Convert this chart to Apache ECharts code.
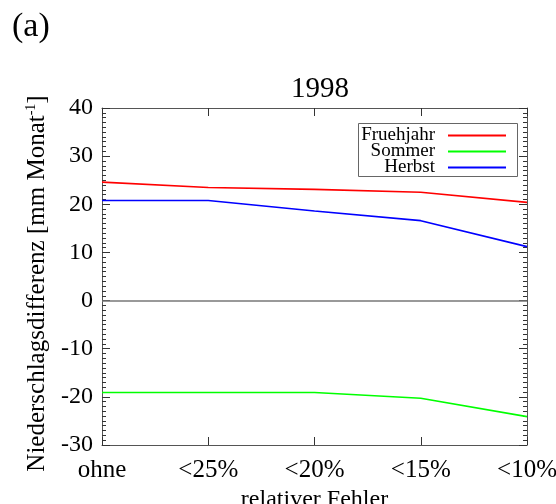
<!DOCTYPE html>
<html><head><meta charset="utf-8">
<script src="https://cdn.jsdelivr.net/npm/echarts@6/dist/echarts.min.js"></script>
<style>html,body{margin:0;padding:0;background:#fff}#c{width:556px;height:504px}</style>
</head><body><div id="c"></div>
<script>
const categories = ['ohne', '<25%', '<20%', '<15%', '<10%'];
const fruehjahr = [24.6, 23.5, 23.1, 22.5, 20.4];
const sommer = [-19.1, -19.1, -19.1, -20.3, -24.1];
const herbst = [20.8, 20.8, 18.6, 16.6, 11.2];
const yTicks = { min: -30, max: 40, interval: 10 };

const F = 'Liberation Serif';
const axColor = '#555';
const tickColor = '#333';
const chart = echarts.init(document.getElementById('c'));
function legendFor(name, color, top) {
  return {
    right: 50, top: top, orient: 'horizontal', align: 'right',
    itemWidth: 58, itemHeight: 10, itemGap: 0,
    textStyle: { fontFamily: F, fontSize: 19, color: '#000', padding: [0, 8, 0, 0] },
    data: [{ name: name, icon: 'path://M0,4H58V6H0Z', itemStyle: { color: color } }],
    padding: 0
  };
}
const yCommon = {
  type: 'value', min: yTicks.min, max: yTicks.max, interval: yTicks.interval,
  axisLine: { show: true, onZero: false, lineStyle: { color: axColor, width: 1 } },
  axisTick: { show: true, inside: true, length: 8, lineStyle: { color: tickColor, width: 1 } },
  minorTick: { show: true, splitNumber: 10, length: 4, lineStyle: { color: tickColor, width: 1 } },
  splitLine: { show: false }
};
chart.setOption({
  animation: false,
  title: {
    text: '1998', left: 315, top: 70, textAlign: 'center',
    textStyle: { fontFamily: F, fontSize: 29, fontWeight: 'normal', color: '#000' }
  },
  graphic: [
    { type: 'text', left: 12, top: 10, style: { text: '(a)', fontFamily: F, fontSize: 34, fill: '#000' } },
    { type: 'rect', shape: { x: 358.5, y: 123.5, width: 159, height: 53 }, style: { fill: 'none', stroke: '#666', lineWidth: 1 }, z: 10 }
  ],
  legend: [legendFor('Fruehjahr', '#ff0000', 126), legendFor('Sommer', '#00ff00', 142), legendFor('Herbst', '#0000ff', 158)],
  grid: { left: 102, right: 29, top: 108, bottom: 59, containLabel: false, outerBoundsMode: 'none' },
  xAxis: [
    {
      type: 'category', data: categories, boundaryGap: false, position: 'bottom',
      axisLine: { onZero: false, lineStyle: { color: axColor, width: 1 } },
      axisTick: { show: true, inside: true, length: 8, lineStyle: { color: tickColor, width: 1 } },
      axisLabel: { fontFamily: F, fontSize: 25, color: '#000', margin: 13 },
      name: 'relativer Fehler', nameLocation: 'middle', nameGap: 32,
      nameTextStyle: { fontFamily: F, fontSize: 24, color: '#000' },
      splitLine: { show: false }
    },
    {
      type: 'category', data: categories, boundaryGap: false, position: 'top',
      axisLine: { onZero: false, lineStyle: { color: axColor, width: 1 } },
      axisTick: { show: true, inside: true, length: 8, lineStyle: { color: tickColor, width: 1 } },
      axisLabel: { show: false }, splitLine: { show: false }
    }
  ],
  yAxis: [
    Object.assign({}, yCommon, {
      position: 'left',
      axisLabel: { fontFamily: F, fontSize: 24, color: '#000', margin: 9 },
      name: '{a|Niederschlagsdifferenz [mm Monat}{s|-1}{a|]}', nameLocation: 'middle', nameGap: 46,
      nameTextStyle: { fontFamily: F, fontSize: 25, color: '#000', padding: [0, 14, 0, 0],
        rich: { a: { fontFamily: F, fontSize: 25, color: '#000' }, s: { fontFamily: F, fontSize: 14, color: '#000', verticalAlign: 'top', padding: [0, 0, 12, 0] } } }
    }),
    Object.assign({}, yCommon, { position: 'right', axisLabel: { show: false } })
  ],
  series: [
    { name: 'Fruehjahr', type: 'line', data: fruehjahr, symbol: 'none', color: '#ff0000', lineStyle: { width: 1.6, color: '#ff0000' },
      markLine: { silent: true, symbol: 'none', label: { show: false }, lineStyle: { color: '#777', type: 'solid', width: 1.5 }, data: [{ yAxis: 0 }] } },
    { name: 'Sommer', type: 'line', data: sommer, symbol: 'none', color: '#00ff00', lineStyle: { width: 1.6, color: '#00ff00' } },
    { name: 'Herbst', type: 'line', data: herbst, symbol: 'none', color: '#0000ff', lineStyle: { width: 1.6, color: '#0000ff' } }
  ]
});
</script></body></html>
